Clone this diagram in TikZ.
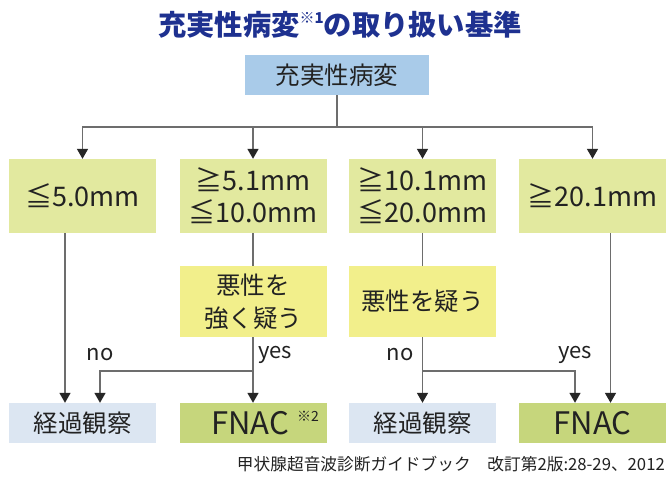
\documentclass[tikz,border=0pt]{standalone}
\usepackage{fontspec}
\setmainfont{Noto Sans CJK JP}
\usetikzlibrary{arrows.meta}
\definecolor{titleblue}{HTML}{1E3190}
\definecolor{topblue}{HTML}{A9CBE9}
\definecolor{sizegreen}{HTML}{E2E99F}
\definecolor{suspyellow}{HTML}{F2EF8B}
\definecolor{obsblue}{HTML}{DCE6F2}
\definecolor{fnacgreen}{HTML}{C6D67C}
\definecolor{linegray}{HTML}{6D6D6D}
\definecolor{txt}{HTML}{222222}
\tikzset{
  box/.style={inner sep=0pt, minimum width=147pt, text=txt, align=center},
  topbox/.style={box, fill=topblue, minimum width=184pt, minimum height=40pt, font=\fontsize{24.5}{30}\selectfont},
  sizebox/.style={box, fill=sizegreen, minimum height=74pt, font=\fontsize{27}{32}\selectfont},
  suspbox/.style={box, fill=suspyellow, minimum height=71pt, font=\fontsize{24.5}{33}\selectfont},
  obsbox/.style={box, fill=obsblue, minimum height=40pt, font=\fontsize{24.5}{30}\selectfont},
  fnacbox/.style={box, fill=fnacgreen, minimum height=40pt, font=\fontsize{31}{34}\selectfont},
  conn/.style={draw=linegray, line width=1.5pt},
  arr/.style={conn, -{Triangle[length=10pt,width=11pt,color=black!85,fill=black!85]}},
  lbl/.style={inner sep=0pt, text=txt, font=\fontsize{22}{24}\selectfont}
}
\begin{document}
\begin{tikzpicture}[x=1pt,y=-1pt]
\fill[white] (0,0) rectangle (666,481);
\useasboundingbox (0,0) rectangle (666,481);

\node[text=titleblue, font=\fontsize{28.3}{30}\bfseries\selectfont] (title) at (340,25)
  {充実性病変\raisebox{0.45em}{\fontsize{15}{16}\selectfont ※1}の取り扱い基準};

\node[topbox] (top) at (337,75) {充実性病変};

\node[sizebox] (s1) at (82.5,196) {≦5.0mm};
\node[sizebox] (s2) at (253,196) {≧5.1mm\\≦10.0mm};
\node[sizebox] (s3) at (422.5,196) {≧10.1mm\\≦20.0mm};
\node[sizebox] (s4) at (592.5,196) {≧20.1mm};

\node[suspbox] (q2) at (253,301.5) {悪性を\\強く疑う};
\node[suspbox] (q3) at (422.5,301.5) {悪性を疑う};

\node[obsbox] (b1) at (82.5,423) {経過観察};
\node[fnacbox] (b2) at (253,423) {\hspace*{24pt}FNAC\hspace{8pt}\raisebox{0.45em}{\fontsize{14}{15}\selectfont ※2}};
\node[obsbox] (b3) at (422.5,423) {経過観察};
\node[fnacbox] (b4) at (592.5,423) {FNAC};

\node[lbl] (no1) at (100,355) {no};
\node[lbl] (yes2) at (275,355) {yes};
\node[lbl] (no3) at (400,355) {no};
\node[lbl] (yes4) at (575,355) {yes};

\node[inner sep=0pt, anchor=east, text=txt, font=\fontsize{16.7}{18}\selectfont] (cite) at (665,464)
  {甲状腺超音波診断ガイドブック　改訂第2版:28-29、2012};

% connectors
\coordinate (bus) at (337,127);
\draw[conn] (top.south) -- (bus);
\draw[arr] (bus) -| (s1.north);
\draw[arr] (bus) -| (s2.north);
\draw[arr] (bus) -| (s3.north);
\draw[arr] (bus) -| (s4.north);

\draw[arr] ([xshift=-17.5pt]s1.south) -- ([xshift=-17.5pt]b1.north);
\draw[conn] (s2.south) -- (q2.north);
\draw[arr] (q2.south) -- (b2.north);
\path (q2.south) ++(0,34) coordinate (j2);
\draw[arr] (j2) -| ([xshift=17.5pt]b1.north);

\draw[conn] (s3.south) -- (q3.north);
\draw[arr] (q3.south) -- (b3.north);
\path (q3.south) ++(0,34) coordinate (j3);
\draw[arr] (j3) -| ([xshift=-17.5pt]b4.north);
\draw[arr] ([xshift=18pt]s4.south) -- ([xshift=18pt]b4.north);
\end{tikzpicture}
\end{document}
